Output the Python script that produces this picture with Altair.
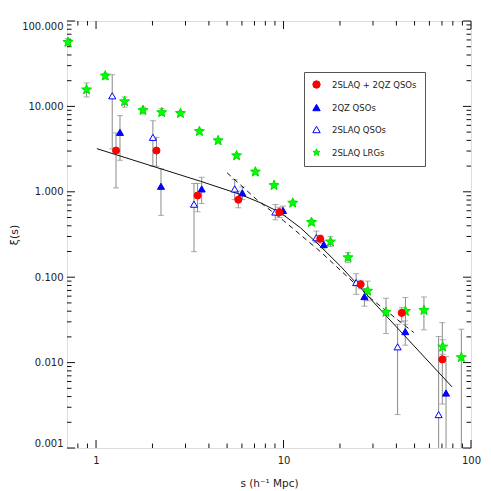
import altair as alt
import pandas as pd

# ---------------- data ----------------
series_names = ["2SLAQ + 2QZ QSOs", "2QZ QSOs", "2SLAQ QSOs", "2SLAQ LRGs"]

# 2SLAQ + 2QZ QSOs (red filled circles)
comb_s = [1.278, 2.10, 3.48, 5.74, 9.5, 15.7, 25.8, 42.7, 70.3]
comb_xi = [3.04, 3.04, 0.905, 0.807, 0.578, 0.282, 0.0826, 0.0382, 0.0109]
comb_hi = [4.89, 4.34, 1.25, 1.02, 0.66, 0.31, 0.092, 0.044, 0.0294]
comb_lo = [1.11, 1.99, 0.584, 0.65, 0.50, 0.25, 0.073, 0.030, 0.00327]

# 2QZ QSOs (blue filled triangles)
qz_s = [1.342, 2.22, 3.66, 6.03, 9.94, 16.4, 27.0, 44.6, 73.6]
qz_xi = [4.97, 1.16, 1.08, 0.97, 0.605, 0.242, 0.0593, 0.0231, 0.0044]
qz_hi = [7.79, 1.86, 1.48, 1.14, 0.68, 0.27, 0.0737, 0.0308, 0.0118]
qz_lo = [2.34, 0.53, 0.73, 0.81, 0.53, 0.215, 0.0458, 0.016, 0.0005]

# 2SLAQ QSOs (blue open triangles)
sq_s = [1.22, 2.01, 3.33, 5.49, 9.04, 14.96, 24.4, 40.6, 67.2]
sq_xi = [13.3, 4.34, 0.716, 1.08, 0.58, 0.29, 0.0865, 0.0153, 0.00246]
sq_hi = [23.5, 6.8, 1.25, 1.39, 0.71, 0.347, 0.110, 0.028, 0.0202]
sq_lo = [3.18, 1.99, 0.199, 0.81, 0.47, 0.254, 0.063, 0.00246, 0.0005]

# 2SLAQ LRGs (green stars)
lrg_s = [0.708, 0.89, 1.12, 1.42, 1.78, 2.24, 2.82, 3.56, 4.48, 5.62, 7.08,
         8.9, 11.2, 14.1, 17.8, 22.1, 28.1, 35.2, 44.7, 56.1, 70.6, 88.8]
lrg_xi = [56.5, 15.7, 22.8, 11.4, 9.0, 8.5, 8.3, 5.1, 3.98, 2.65, 1.71,
          1.19, 0.74, 0.44, 0.26, 0.17, 0.069, 0.039, 0.040, 0.041, 0.0153, 0.0115]
lrg_hi = [62, 18.8, 24.5, 12.9, 9.8, 9.4, 8.8, 5.4, 4.2, 2.8, 1.8,
          1.25, 0.78, 0.47, 0.298, 0.194, 0.090, 0.0567, 0.0578, 0.0587, 0.0185, 0.0246]
lrg_lo = [52, 12.9, 20.9, 9.8, 8.2, 7.9, 7.8, 4.8, 3.75, 2.5, 1.62,
          1.13, 0.70, 0.41, 0.228, 0.148, 0.053, 0.0219, 0.028, 0.0242, 0.0125, 0.0005]

# model curves
solid_s = [1.01, 3.6, 5.9, 7.53, 9.62, 12.3, 15.7, 20.1, 25.7, 31.5, 79.2]
solid_xi = [3.2, 1.33, 0.93, 0.744, 0.569, 0.38, 0.231, 0.135, 0.0756, 0.0461, 0.0052]
dash_s = [5.0, 7.2, 10.0, 15.7, 29.6, 49.5]
dash_xi = [1.67, 0.81, 0.46, 0.20, 0.055, 0.0225]

# axis ticks
x_major = [1, 10, 100]
x_minor = [0.8, 0.9, 2, 3, 4, 5, 6, 7, 8, 9, 20, 30, 40, 50, 60, 70, 80, 90]
y_major = [0.001, 0.01, 0.1, 1, 10, 100]
y_minor = [m * 10.0 ** k for k in range(-3, 2) for m in range(2, 10)]

# ---------------- tables ----------------
def frame(name, s, xi, hi, lo):
    return pd.DataFrame({"series": name, "s": s, "xi": xi, "hi": hi, "lo": lo})

pts = pd.concat([
    frame(series_names[3], lrg_s, lrg_xi, lrg_hi, lrg_lo),
    frame(series_names[2], sq_s, sq_xi, sq_hi, sq_lo),
    frame(series_names[1], qz_s, qz_xi, qz_hi, qz_lo),
    frame(series_names[0], comb_s, comb_xi, comb_hi, comb_lo),
], ignore_index=True)

solid_df = pd.DataFrame({"s": solid_s, "xi": solid_xi})
dash_df = pd.DataFrame({"s": dash_s, "xi": dash_xi})

W, H = 404, 427
FONT = "DejaVu Sans"
TXT = "#222222"
INK = "#111111"
ERR = "#8a8a8a"

STAR = ("M0,-1L0.247,-0.34L0.951,-0.309L0.399,0.13L0.588,0.809L0,0.42"
        "L-0.588,0.809L-0.399,0.13L-0.951,-0.309L-0.247,-0.34Z")

xs = alt.Scale(type="log", domain=[0.7, 100], nice=False)
ys = alt.Scale(type="log", domain=[0.001, 100], nice=False, clamp=True)

XA = alt.Axis(values=x_major, format="d", ticks=False,
              domain=False, grid=False, labelFlush=False, labelPadding=7,
              labelFont=FONT, labelFontSize=10, labelColor=TXT,
              title="s (h\u207b\u00b9 Mpc)", titleFont=FONT, titleFontSize=10.5,
              titleFontWeight="normal", titleColor=TXT, titleY=35,
              titleBaseline="middle")
YA = alt.Axis(values=y_major, format=".3f", ticks=False,
              domain=False, grid=False, labelFlush=True, labelPadding=4,
              labelFont=FONT, labelFontSize=10, labelColor=TXT,
              title="\u03be(s)", titleFont=FONT, titleFontSize=11,
              titleFontWeight="normal", titleColor=TXT, titleAngle=270,
              titleX=-53, titleY=H / 2, titleBaseline="middle",
              titleAlign="center")


def X(field):
    return alt.X(field, type="quantitative", scale=xs, axis=XA)


def Y(field):
    return alt.Y(field, type="quantitative", scale=ys, axis=YA)


rules = alt.Chart(pts).mark_rule(color=ERR, strokeWidth=1).encode(
    x=X("s"), y=Y("hi"), y2="lo:Q",
)

caps_hi = alt.Chart(pts).mark_tick(orient="horizontal", size=6, thickness=1,
                                   color=ERR).encode(x=X("s"), y=Y("hi"))

caps_lo = alt.Chart(pts).transform_filter(alt.datum.lo >= 0.001).mark_tick(
    orient="horizontal", size=6, thickness=1, color=ERR
).encode(x=X("s"), y=Y("lo"))


# inward axis ticks (frame ticks on all four sides)
def x_ticks(values, length, side):
    d = pd.DataFrame({"s": values})
    if side == "bottom":
        y0, y1 = H, H - length
    else:
        y0, y1 = 0, length
    return alt.Chart(d).mark_rule(color=INK, strokeWidth=1).encode(
        x=X("s"), y=alt.value(y0), y2=alt.value(y1),
    )


def y_ticks(values, length, side):
    d = pd.DataFrame({"xi": values})
    if side == "left":
        x0, x1 = 0, length
    else:
        x0, x1 = W, W - length
    return alt.Chart(d).mark_rule(color=INK, strokeWidth=1).encode(
        y=Y("xi"), x=alt.value(x0), x2=alt.value(x1),
    )


tick_layers = [
    x_ticks(x_major, 8, "bottom"), x_ticks(x_minor, 4.5, "bottom"),
    x_ticks(x_major, 8, "top"), x_ticks(x_minor, 4.5, "top"),
    y_ticks(y_major, 8, "left"), y_ticks(y_minor, 4.5, "left"),
    y_ticks(y_major, 8, "right"), y_ticks(y_minor, 4.5, "right"),
]

solid = alt.Chart(solid_df).mark_line(color=INK, strokeWidth=1).encode(
    x=X("s"), y=Y("xi"),
)

dashed = alt.Chart(dash_df).mark_line(color=INK, strokeWidth=1, strokeDash=[5, 4]).encode(
    x=X("s"), y=Y("xi"),
)

leg = alt.Legend(orient="none", legendX=237, legendY=51, padding=8, rowPadding=11,
                 strokeColor="#555555", fillColor="white", labelFont=FONT,
                 labelFontSize=8.5, labelColor=TXT, labelOffset=11,
                 symbolStrokeWidth=1, symbolSize=55)

shapes = ["circle", "triangle-up", "triangle-up", STAR]
fills = ["#ff0000", "#0000ff", "#ffffff", "#00ff00"]
strokes = ["#ff0000", "#0000ff", "#0000ff", "#00e000"]

points = alt.Chart(pts).mark_point(filled=True, opacity=1, strokeWidth=1).encode(
    x=X("s"), y=Y("xi"),
    shape=alt.Shape("series:N", scale=alt.Scale(domain=series_names, range=shapes),
                    legend=leg, title=None),
    fill=alt.Fill("series:N", scale=alt.Scale(domain=series_names, range=fills),
                  legend=leg, title=None),
    stroke=alt.Stroke("series:N", scale=alt.Scale(domain=series_names, range=strokes),
                      legend=leg, title=None),
    size=alt.condition(alt.datum.series == "2SLAQ LRGs", alt.value(110), alt.value(50)),
)

chart = alt.layer(rules, caps_hi, caps_lo, *tick_layers, solid, dashed, points).properties(
    width=W, height=H,
    autosize=alt.AutoSizeParams(type="none"),
    padding={"left": 59, "top": 13, "right": 12, "bottom": 43},
).configure_view(stroke=INK, strokeWidth=1).configure(background="white")

chart.save("out.html", embed_options={"renderer": "svg", "actions": False})
